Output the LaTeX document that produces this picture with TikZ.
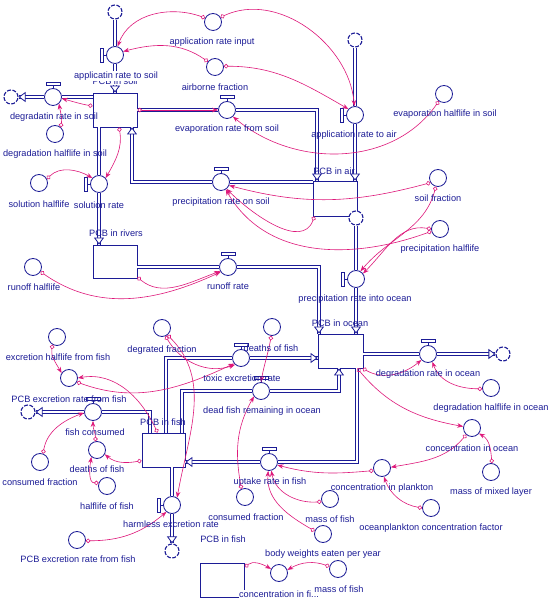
\documentclass[tikz,border=0pt]{standalone}
\usepackage{fontspec}
\setmainfont{Liberation Sans}
\usetikzlibrary{arrows.meta,calc}
\definecolor{vb}{RGB}{28,28,150}
\definecolor{pk}{RGB}{222,24,122}
\newcommand\lblfont{\fontsize{9.2}{10}\selectfont}
\newcommand\bartop[1]{\draw[vb,line width=0.8pt,fill=white] (#1.north) -- ++(0,2.5) ++(-7,0) rectangle ++(14,3);}
\newcommand\barleft[1]{\draw[vb,line width=0.8pt,fill=white] (#1.west) -- ++(-2.5,0) ++(0,-7) rectangle ++(-3,14);}
\begin{document}
\begin{tikzpicture}[x=1pt,y=1pt,
  stock/.style={draw=vb,line width=0.8pt,fill=white,minimum width=44pt,minimum height=34pt,inner sep=0pt,rectangle},
  aux/.style={draw=vb,line width=0.8pt,circle,minimum size=17pt,inner sep=0pt},
  valve/.style={aux,fill=white},
  cloudn/.style={draw=vb,line width=1.1pt,circle,minimum size=14pt,inner sep=0pt,fill=white,dash pattern=on 4pt off 1.5pt},
  pipe/.style={draw=vb,line width=0.8pt,double=white,double distance=2.6pt},
  ptip/.style={draw=white,line width=0.8pt,-{Triangle[length=7pt,width=10pt,color=vb,fill=white]}},
  link/.style={draw=pk,line width=0.6pt,{Circle[open,length=4.5pt,width=4.5pt]}-{Stealth[length=6pt,width=4.5pt]}},
  lab/.style={text=vb,font=\lblfont,inner sep=0.3pt},
]
\fill[white] (0,0) rectangle (553,605);
\useasboundingbox (0,0) rectangle (553,605);

% stocks
\node[stock] (soil) at (115,605-110) {};
\node[stock,minimum height=35pt] (air) at (335,605-198.5) {};
\node[stock,minimum height=33pt] (rivers) at (115,605-261.5) {};
\node[stock,minimum width=45pt] (ocean) at (340.5,605-351) {};
\node[stock,minimum width=43pt] (fish) at (163.5,605-450) {};
\node[stock] (cbox) at (222.5,605-580) {};

% clouds
\node[cloudn] (c1) at (115,605-12) {};
\node[cloudn] (c2) at (11,605-97) {};
\node[cloudn] (c3) at (355,605-40) {};
\node[cloudn] (c4) at (356,605-218) {};
\node[cloudn] (c5) at (503,605-354) {};
\node[cloudn] (c6) at (28,605-412) {};
\node[cloudn] (c7) at (172,605-551) {};

% valves
\node[valve] (vAppSoil) at (115,605-55) {};
\node[valve] (vDegSoil) at (53,605-97) {};
\node[valve] (vEvap) at (227,605-110) {};
\node[valve] (vAppAir) at (355,605-115) {};
\node[valve] (vSol) at (99,605-184) {};
\node[valve] (vPrecSoil) at (221,605-182) {};
\node[valve] (vRunoff) at (228,605-267) {};
\node[valve] (vPrecOcean) at (356,605-279) {};
\node[valve] (vDegOcean) at (428,605-354) {};
\node[valve] (vToxic) at (241,605-358) {};
\node[valve] (vDead) at (261,605-391) {};
\node[valve] (vFishCons) at (93,605-412) {};
\node[valve] (vUptake) at (269,605-462) {};
\node[valve] (vHarmless) at (172,605-505) {};
\barleft{vAppSoil}
\bartop{vDegSoil}
\bartop{vEvap}
\barleft{vAppAir}
\barleft{vSol}
\bartop{vPrecSoil}
\bartop{vRunoff}
\barleft{vPrecOcean}
\bartop{vDegOcean}
\bartop{vToxic}
\bartop{vDead}
\bartop{vFishCons}
\bartop{vUptake}
\barleft{vHarmless}

% auxiliaries
\node[aux] (aAppInput) at (213,605-22) {};
\node[aux] (aAirborne) at (215,605-67) {};
\node[aux] (aDegHLs) at (55,605-134) {};
\node[aux] (aEvapHL) at (444,605-94) {};
\node[aux] (aSolHL) at (39,605-183) {};
\node[aux] (aSoilFrac) at (438,605-178) {};
\node[aux] (aPrecHL) at (440,605-229) {};
\node[aux] (aRunoffHL) at (33,605-267) {};
\node[aux] (aExcHL) at (57,605-337) {};
\node[aux] (aPCBexc) at (69,605-378) {};
\node[aux] (aDeathsL) at (97,605-450) {};
\node[aux] (aConsFracL) at (40,605-462) {};
\node[aux] (aHLfish) at (107,605-486) {};
\node[aux] (aPCBexc2) at (77,605-540) {};
\node[aux] (aDegrFrac) at (162,605-328) {};
\node[aux] (aDeathsR) at (272,605-327) {};
\node[aux] (aConsFrac2) at (245,605-497) {};
\node[aux] (aMassFish1) at (330,605-499) {};
\node[aux] (aBodyW) at (323,605-534) {};
\node[aux] (aPlankton) at (382,605-468) {};
\node[aux] (aOPCF) at (431,605-508) {};
\node[aux] (aConcOcean) at (472,605-428) {};
\node[aux] (aMassMixed) at (491,605-472) {};
\node[aux] (aDegHLo) at (491,605-388) {};
\node[aux] (aConcFish) at (279,605-573) {};
\node[aux] (aMassFish2) at (338,605-569) {};

% pipes
\coordinate (e1) at (317,605-110);
\coordinate (p1) at (132,605-182);
\coordinate (r1) at (319,605-267);
\coordinate (f1) at (150,605-412);
\coordinate (f2) at (166,605-358);
\coordinate (f3) at (182,605-391);
\coordinate (f4) at (339,605-391);
\coordinate (u1) at (357,605-462);

\draw[pipe] (c1) -- (vAppSoil);
\draw[pipe] (vAppSoil) -- (soil.north);
\draw[pipe] (soil.west |- vDegSoil) -- (vDegSoil);
\draw[pipe] (vDegSoil) -- (c2);
\draw[pipe] (soil.east) -- (vEvap);
\draw[pipe] (vEvap) -- (e1) -- (e1 |- air.north);
\draw[pipe] (c3) -- (vAppAir);
\draw[pipe] (vAppAir) -- (vAppAir |- air.north);
\draw[pipe] (soil.south -| vSol) -- (vSol);
\draw[pipe] (vSol) -- (vSol |- rivers.north);
\draw[pipe] (air.west |- vPrecSoil) -- (vPrecSoil);
\draw[pipe] (vPrecSoil) -- (p1) -- (p1 |- soil.south);
\draw[pipe] (rivers.east |- vRunoff) -- (vRunoff);
\draw[pipe] (vRunoff) -- (r1) -- (r1 |- ocean.north);
\draw[pipe] (c4) -- (vPrecOcean);
\draw[pipe] (vPrecOcean) -- (vPrecOcean |- ocean.north);
\draw[pipe] (ocean.east |- vDegOcean) -- (vDegOcean);
\draw[pipe] (vDegOcean) -- (c5);
\draw[pipe] (f1 |- fish.north) -- (f1) -- (vFishCons);
\draw[pipe] (vFishCons) -- (c6);
\draw[pipe] (f2 |- fish.north) -- (f2) -- (vToxic);
\draw[pipe] (vToxic) -- (ocean.west |- vToxic);
\draw[pipe] (f3 |- fish.north) -- (f3) -- (vDead);
\draw[pipe] (vDead) -- (f4) -- (f4 |- ocean.south);
\draw[pipe] (u1 |- ocean.south) -- (u1) -- (vUptake);
\draw[pipe] (vUptake) -- (fish.east |- vUptake);
\draw[pipe] (fish.south -| vHarmless) -- (vHarmless);
\draw[pipe] (vHarmless) -- (c7);

% pipe arrow heads
\draw[ptip] ($(soil.north)+(0,7)$) -- (soil.north);
\draw[ptip] ($(c2.east)+(7,0)$) -- (c2.east);
\draw[ptip] ($(e1 |- air.north)+(0,7)$) -- (e1 |- air.north);
\draw[ptip] ($(vAppAir |- air.north)+(0,7)$) -- (vAppAir |- air.north);
\draw[ptip] ($(vSol |- rivers.north)+(0,7)$) -- (vSol |- rivers.north);
\draw[ptip] ($(p1 |- soil.south)+(0,-7)$) -- (p1 |- soil.south);
\draw[ptip] ($(r1 |- ocean.north)+(0,7)$) -- (r1 |- ocean.north);
\draw[ptip] ($(vPrecOcean |- ocean.north)+(0,7)$) -- (vPrecOcean |- ocean.north);
\draw[ptip] ($(c5.west)+(-7,0)$) -- (c5.west);
\draw[ptip] ($(c6.east)+(7,0)$) -- (c6.east);
\draw[ptip] ($(ocean.west |- vToxic)+(-7,0)$) -- (ocean.west |- vToxic);
\draw[ptip] ($(f4 |- ocean.south)+(0,-7)$) -- (f4 |- ocean.south);
\draw[ptip] ($(fish.east |- vUptake)+(7,0)$) -- (fish.east |- vUptake);
\draw[ptip] ($(c7.north)+(0,7)$) -- (c7.north);

% links
\draw[link] (aAppInput.153) to[out=160,in=70] (vAppSoil.73);
\draw[link] (aAppInput.32) to[out=25,in=95] (vAppAir.94);
\draw[link] (aAirborne.143) to[out=145,in=15] (vAppSoil.23);
\draw[link] (aAirborne.5) to[out=0,in=150] (vAppAir.138);
\draw[link] (aDegHLs.50) to[out=80,in=-80] (vDegSoil.-48);
\draw[link] (soil.170) to[out=170,in=-15] (vDegSoil.-10);
\draw[link] (soil.east) -- (vEvap.west);
\draw[link] (soil.-77) to[out=-80,in=60] (vSol.42);
\draw[link] (aSolHL.27) to[out=45,in=150] (vSol.138);
\draw[link] (aEvapHL.234) to[out=235,in=-40] (vEvap.-48);
\draw[link] (air.221) to[out=250,in=-45] (vPrecSoil.-51);
\draw[link] (aSoilFrac.212) to[out=195,in=-15] (vPrecSoil.-23);
\draw[link] (aPrecHL.195) to[out=200,in=-60] (vPrecSoil.-58);
\draw[link] (aSoilFrac.256) to[out=255,in=50] (vPrecOcean.60);
\draw[link] (aPrecHL.180) to[out=170,in=45] (vPrecOcean.38);
\draw[link] (rivers.-35) to[out=-40,in=200] (vRunoff.208);
\draw[link] (aRunoffHL.-32) to[out=-35,in=205] (vRunoff.214);
\draw[link] (aExcHL.240) to[out=260,in=120] (aPCBexc.146);
\draw[link] (fish.109) to[out=115,in=10] (aPCBexc.0);
\draw[link] (aPCBexc.-27) to[out=-20,in=205] (vToxic.219);
\draw[link] (fish.206) to[out=190,in=-40] (aDeathsL.-29);
\draw[link] (aDeathsL.100) to[out=90,in=270] (vFishCons.270);
\draw[link] (aConsFracL.70) to[out=80,in=200] (vFishCons.185);
\draw[link] (aHLfish.160) to[out=180,in=260] (aDeathsL.231);
\draw[link] (aDegrFrac.-66) to[out=-60,in=200] (vToxic.228);
\draw[link] (aDegrFrac.-52) to[out=-45,in=80] (vHarmless.55);
\draw[link] (aDeathsR.-95) to[out=-100,in=80] (vDead.90);
\draw[link] (aConsFrac2.114) to[out=100,in=240] (vDead.218);
\draw[link] (aPlankton.197) to[out=185,in=-15] (vUptake.-20);
\draw[link] (aMassFish1.197) to[out=185,in=-80] (vUptake.-75);
\draw[link] (aBodyW.160) to[out=150,in=-95] (vUptake.-95);
\draw[link] (aOPCF.180) to[out=170,in=-70] (aPlankton.-78);
\draw[link] (aConcOcean.229) to[out=230,in=10] (aPlankton.5);
\draw[link] (aMassMixed.84) to[out=95,in=-30] (aConcOcean.-38);
\draw[link] (ocean.-46) to[out=-50,in=170] (aConcOcean.170);
\draw[link] (ocean.-38) to[out=-30,in=220] (vDegOcean.222);
\draw[link] (aDegHLo.185) to[out=180,in=-70] (vDegOcean.-61);
\draw[link] (cbox.30) to[out=40,in=150] (aConcFish.153);
\draw[link] (aMassFish2.164) to[out=160,in=30] (aConcFish.20);
\draw[link] (aPCBexc2.-5) to[out=0,in=220] (vHarmless.231);

% labels of auxiliaries
\node[lab] (l1) at (212,605-42) {application rate input};
\node[lab] (l2) at (215,605-87) {airborne fraction};
\node[lab] (l3) at (55,605-154) {degradation halflife in soil};
\node[lab] (l4) at (445,605-114) {evaporation halflife in soil};
\node[lab] (l5) at (39,605-204) {solution halflife};
\node[lab] (l6) at (438,605-198) {soil fraction};
\node[lab] (l7) at (440,605-249) {precipitation halflife};
\node[lab] (l8) at (34,605-287) {runoff halflife};
\node[lab] (l9) at (58,605-357) {excretion halflife from fish};
\node[lab] (l10) at (69,605-399) {PCB excretion rate from fish};
\node[lab] (l11) at (97,605-469) {deaths of fish};
\node[lab] (l12) at (40,605-482) {consumed fraction};
\node[lab] (l13) at (107,605-506) {halflife of fish};
\node[lab] (l14) at (78,605-559) {PCB excretion rate from fish};
\node[lab] (l15) at (162,605-350) {degrated fraction};
\node[lab] (l16) at (271,605-348) {deaths of fish};
\node[lab] (l17) at (246,605-517) {consumed fraction};
\node[lab] (l18) at (330,605-519) {mass of fish};
\node[lab] (l19) at (323,605-554) {body weights eaten per year};
\node[lab] (l20) at (382,605-488) {concentration in plankton};
\node[lab] (l21) at (431,605-528) {oceanplankton concentration factor};
\node[lab] (l22) at (472,605-448) {concentration in ocean};
\node[lab] (l23) at (491,605-492) {mass of mixed layer};
\node[lab] (l24) at (491,605-408) {degradation halflife in ocean};
\node[lab,fill=white] (l25) at (279,605-594) {concentration in fi...};
\node[lab] (l26) at (339,605-589) {mass of fish};

% labels of stocks and flows
\node[lab,fill=white] (m0) at (115,605-81.5) {PCB in soil};
\node[lab,fill=white] (m1) at (116,605-76) {applicatin rate to soil};
\node[lab] (m2) at (54,605-117) {degradatin rate in soil};
\node[lab] (m3) at (227,605-129) {evaporation rate from soil};
\node[lab] (m4) at (354,605-135) {application rate to air};
\node[lab] (m5) at (334,605-171) {PCB in air};
\node[lab] (m6) at (99,605-205) {solution rate};
\node[lab] (m7) at (221,605-202) {precipitation rate on soil};
\node[lab] (m8) at (116,605-233) {PCB in rivers};
\node[lab] (m9) at (228,605-286) {runoff rate};
\node[lab] (m10) at (355,605-299) {precipitation rate into ocean};
\node[lab] (m11) at (340,605-323) {PCB in ocean};
\node[lab] (m12) at (242,605-378) {toxic excretion rate};
\node[lab] (m13) at (262,605-411) {dead fish remaining in ocean};
\node[lab] (m14) at (163,605-422) {PCB in fish};
\node[lab] (m15) at (95,605-432) {fish consumed};
\node[lab] (m16) at (270,605-482) {uptake rate in fish};
\node[lab] (m17) at (428,605-374) {degradation rate in ocean};
\node[lab] (m18) at (171,605-524) {harmless excretion rate};
\node[lab] (m19) at (223,605-539) {PCB in fish};
\end{tikzpicture}
\end{document}
